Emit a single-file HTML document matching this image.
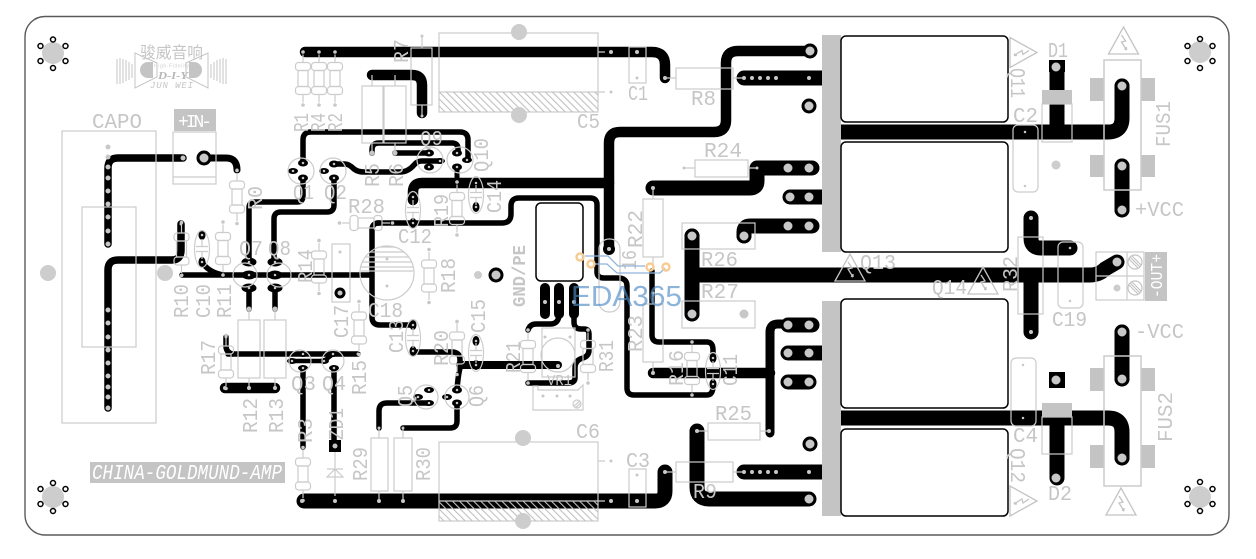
<!DOCTYPE html>
<html><head><meta charset="utf-8"><title>PCB</title>
<style>
html,body{margin:0;padding:0;background:#fff}
svg{display:block}
text{font-family:"Liberation Mono","Noto Sans CJK SC",monospace;font-size:21px;fill:#c6c6c6}
</style></head><body>
<svg width="1256" height="559" viewBox="0 0 1256 559" xmlns="http://www.w3.org/2000/svg">
<defs>
<pattern id="h" width="5" height="5" patternUnits="userSpaceOnUse" patternTransform="rotate(-45)"><rect width="1.1" height="5" fill="#c0c0c0"/></pattern>
<g id="rv" fill="none" stroke="#ccc" stroke-width="1.2"><rect x="-5" y="-8" width="10" height="16"/><rect x="-7.5" y="-16" width="15" height="8" rx="3"/><rect x="-7.5" y="8" width="15" height="8" rx="3"/><path d="M0-16V-24M0 16V24"/></g>
<g id="rd"><use href="#rv"/><circle cy="-26.5" r="1.8" fill="#c8c8c8"/><circle cy="26.5" r="1.8" fill="#c8c8c8"/></g>
<g id="cp" fill="none" stroke="#ccc" stroke-width="1.2"><ellipse rx="7.5" ry="18.5"/><path d="M-6-2.5H6M-6 2.5H6M0-10V-2.5M0 2.5V10"/></g>
<g id="tz" fill="none" stroke="#c4c4c4" stroke-width="1.3"><path d="M-15 13L0-14L15 13Z"/><path d="M-2-6L2 0L-2 1L3 9M3 9l-2-1M3 9V6"/></g>
<g id="sc" fill="none" stroke="#c4c4c4" stroke-width="1.2"><circle r="7"/><path d="M-5-5L5 5M-3-6L6 3M-6-3L3 6"/></g>
</defs>
<rect width="1256" height="559" fill="#fff"/>
<rect x="25" y="16.500" width="1204" height="518.500" rx="20" fill="#fff" stroke="#5a5a5a" stroke-width="1.4"/>

<!-- silk below tracks -->
<g fill="#c4c4c4">
<rect x="1090" y="78" width="14" height="23"/><rect x="1141" y="78" width="14" height="23"/><rect x="1090" y="155" width="14" height="22"/><rect x="1141" y="155" width="14" height="22"/>
<rect x="1090" y="368" width="14" height="23"/><rect x="1141" y="368" width="14" height="23"/><rect x="1090" y="445" width="14" height="23"/><rect x="1141" y="445" width="14" height="23"/>
</g>

<!-- tracks -->
<g fill="none" stroke="#000" stroke-linecap="round" stroke-linejoin="round">
<g stroke-width="10.500">
<path d="M305 52H652Q665 52 665 65V78"/>
<path d="M372 75H412Q422 75 422 85V113"/>
<path d="M810 51H738Q726 51 726 63V120Q726 132 714 132H620Q609 132 609 143V248"/>
<path d="M413 200V192Q413 183 422 183H609"/>
<path d="M225 388H275"/>
<path d="M653 373H770"/>
</g>
<g stroke-width="5.500">
<path d="M303 163V140Q303 132 311 132H460Q468 132 468 140V160"/>
<path d="M372 153V150Q372 143 379 143H452Q458 143 458 149V153"/>
<path d="M395 153H430"/>
<path d="M334 164H345Q349 164 354 169Q358 172 364 172H400Q408 172 414 165Q417 161 422 161H440"/>
<path d="M303 178V196Q303 202 297 202H255Q249 202 249 208V262"/>
<path d="M334 178V205Q334 212 327 212H281Q274 212 274 219V262"/>
<path d="M108 244V168Q108 158 118 158H183" stroke-width="7.500"/>
<path d="M204 158H226Q237 158 237 170" stroke-width="7"/>
<path d="M108 408V270Q108 260 118 260H172Q181 260 181 250V224" stroke-width="7.500"/>
<path d="M182 275H370"/>
<path d="M202 262Q208 272 223 275"/>
<path d="M249 288V309M275 288V309"/>
<path d="M377 223H502Q511 223 511 214V206Q511 198 519 198H590Q597 198 597 205V272Q597 278 604 278H618Q627 278 627 286V388Q627 395 634 395H707Q713 395 713 386"/>
<path d="M413 325H380Q372 325 372 317V230Q372 223 379 223M370 275H372"/>
<path d="M413 352H452Q460 352 460 360V368Q458 376 457 390"/>
<path d="M457 403V421Q457 428 450 428H403"/>
<path d="M379 428V411Q379 403 387 403H429"/>
<path d="M228 354H358"/>
<path d="M226 337V346Q226 352 232 354"/>
<path d="M292 361H324L333 354" stroke-width="4.500"/>
<path d="M303 368V447"/>
<path d="M334 368V446"/>
<path d="M528 330Q530 324 536 324H550Q559 324 559 314"/>
<path d="M574 314V322Q574 329 581 329H584Q589 329 589 334V350Q589 356 583 358Q575 360 575 368V378Q575 383 568 383H528"/>
<path d="M652 271V335Q652 342 659 342H707Q713 342 713 350V358"/>
</g>
<path d="M460 365H558" stroke-width="8"/>
<path d="M457 167V182" stroke-width="5"/>
<g stroke-width="15">
<path d="M304 501H655Q665 501 665 491V472"/>
<path d="M653 188H750Q757 188 757 181V168H812"/>
<path d="M790 197H826"/>
<path d="M744 236V232Q744 226 750 226H812"/>
<path d="M744 78H826"/>
<path d="M744 472H826"/>
<path d="M697 431V487Q697 499 709 499H809"/>
<path d="M788 325H812"/>
<path d="M788 353H826"/>
<path d="M788 382H809"/>
<path d="M692 236V314M692 275H1090Q1099 275 1105 269L1117 262"/>
<path d="M1031 218V238Q1031 248 1041 248H1070"/>
<path d="M1031 275V332"/>
<path d="M860 132H1108Q1122 132 1122 118V86"/>
<path d="M1057 132V67" stroke-linecap="butt"/>
<path d="M1122 166V210"/>
<path d="M1122 332V379"/>
<path d="M860 418H1108Q1122 418 1122 432V458"/>
<path d="M1057 418V478"/>
</g>
<path d="M770 433V332Q770 324 778 324H790" stroke-width="9"/>
<g stroke-width="10" >
<path d="M545 288V314M559 288V314M574 288V314"/>
</g>
<!-- round black pads -->
<path d="M810 51h0M809 106h0M810 444h0M496 275h0M204 158h0" stroke-width="15"/>
<path d="M692 236h0M744 236h0M692 314h0M1122 86h0M1122 166h0M1122 210h0M1122 332h0M1122 379h0M1122 458h0" stroke-width="15"/>
<path d="M340 293h0" stroke-width="11"/>
</g>
<rect x="841" y="124.500" width="25" height="15"/><rect x="841" y="410.500" width="25" height="15"/>
<rect x="1049" y="372" width="16" height="16"/>
<rect x="329" y="440" width="12" height="12"/>
<rect x="1049" y="60" width="16" height="12"/>
<g fill="#c4c4c4"><rect x="822" y="35" width="19" height="217"/><rect x="822" y="301" width="19" height="215"/></g>

<!-- transistor pads -->
<g fill="#000">
<ellipse cx="249" cy="262" rx="7.500" ry="4.500"/><ellipse cx="249" cy="275" rx="7.500" ry="4.500"/><ellipse cx="249" cy="288" rx="7.500" ry="4.500"/>
<ellipse cx="275" cy="262" rx="7.500" ry="4.500"/><ellipse cx="275" cy="275" rx="7.500" ry="4.500"/><ellipse cx="275" cy="288" rx="7.500" ry="4.500"/>
<ellipse cx="303" cy="163" rx="5" ry="3.500"/><ellipse cx="293" cy="171" rx="5" ry="3"/><ellipse cx="303" cy="178" rx="5" ry="3.500"/>
<ellipse cx="334" cy="164" rx="5" ry="3.500"/><ellipse cx="324" cy="171" rx="5" ry="3"/><ellipse cx="334" cy="178" rx="5" ry="3.500"/>
<ellipse cx="429" cy="153" rx="5" ry="3.500"/><ellipse cx="440" cy="161" rx="5" ry="3"/><ellipse cx="429" cy="167" rx="5" ry="3.500"/>
<ellipse cx="457" cy="153" rx="5" ry="3.500"/><ellipse cx="467" cy="160" rx="5" ry="3"/><ellipse cx="457" cy="167" rx="5" ry="3.500"/>
<ellipse cx="303" cy="354" rx="5" ry="3"/><ellipse cx="292" cy="361" rx="5" ry="3"/><ellipse cx="303" cy="368" rx="5" ry="3"/>
<ellipse cx="333" cy="354" rx="5" ry="3"/><ellipse cx="324" cy="361" rx="5" ry="3"/><ellipse cx="334" cy="368" rx="5" ry="3"/>
<ellipse cx="429" cy="390" rx="5" ry="3"/><ellipse cx="418" cy="397" rx="5" ry="3"/><ellipse cx="429" cy="403" rx="5" ry="3"/>
<ellipse cx="457" cy="390" rx="5" ry="3.500"/><ellipse cx="447" cy="397" rx="5" ry="3"/><ellipse cx="457" cy="403" rx="5" ry="3.500"/>
<ellipse cx="202" cy="235" rx="3.500" ry="5"/><ellipse cx="202" cy="262" rx="3.500" ry="5"/>
<ellipse cx="413" cy="197" rx="3.500" ry="5"/><ellipse cx="413" cy="223" rx="3.500" ry="5"/>
<ellipse cx="476" cy="183" rx="3.500" ry="5"/><ellipse cx="476" cy="207" rx="3.500" ry="5"/>
<ellipse cx="413" cy="325" rx="3.500" ry="5"/><ellipse cx="413" cy="351" rx="3.500" ry="5"/>
<ellipse cx="476" cy="341" rx="3.500" ry="5"/><ellipse cx="476" cy="365" rx="3.500" ry="5"/>
<ellipse cx="713" cy="358" rx="3.500" ry="5"/><ellipse cx="713" cy="384" rx="3.500" ry="5"/>
<ellipse cx="609" cy="249" rx="6" ry="6"/>
</g>
<rect x="536" y="203" width="47" height="78" rx="5" fill="#fff" stroke="#000" stroke-width="1.500"/>
<g fill="#fff" stroke="#000" stroke-width="1.500">
<rect x="841" y="36" width="167" height="86" rx="5"/><rect x="841" y="142" width="167" height="110" rx="5"/>
<rect x="841" y="299" width="167" height="109" rx="5"/><rect x="841" y="429" width="167" height="87" rx="5"/>
</g>

<!-- silk outlines -->
<g fill="none" stroke="#ccc" stroke-width="1.200">
<rect x="62" y="131" width="94" height="292"/><rect x="82" y="207" width="54" height="140"/>
<rect x="173" y="132" width="43" height="52"/><path d="M173 177H216"/>
<rect x="362" y="86" width="21" height="57"/><rect x="384" y="86" width="22" height="57"/><path d="M372 75V86M395 75V86M372 143V153M395 143V153"/>
<rect x="411" y="48" width="21" height="57"/><path d="M422 36V48M422 105V116"/>
<rect x="238" y="320" width="22" height="58"/><rect x="264" y="320" width="22" height="58"/><path d="M249 309V320M275 309V320M249 378V388M275 378V388"/>
<rect x="371" y="438" width="17" height="53"/><rect x="394" y="438" width="18" height="53"/><path d="M379 428V438M403 428V438M379 491V501M403 491V501"/>
<rect x="643" y="199" width="20" height="58"/><path d="M653 188V199M653 257V267"/>
<rect x="643" y="304" width="20" height="58"/><path d="M653 293V304M653 362V373"/>
<rect x="676" y="68" width="57" height="21"/><path d="M665 78H676M733 78H744"/>
<rect x="676" y="462" width="57" height="20"/><path d="M665 472H676M733 472H744"/>
<rect x="695" y="160" width="53" height="17"/><path d="M684 168H695M748 168H757"/>
<rect x="708" y="423" width="52" height="17"/><path d="M697 431H708M760 431H769"/>
<rect x="682" y="223" width="73" height="26"/><rect x="682" y="301" width="73" height="27"/>
<rect x="439" y="33" width="159" height="79"/><path d="M439 92H605M598 52H605"/>
<rect x="439" y="442" width="159" height="79"/><path d="M439 501H605M598 461H605"/>
<rect x="629" y="47" width="17" height="36"/><rect x="629" y="469" width="17" height="38"/>
<rect x="332" y="244" width="18" height="58"/>
<circle cx="387" cy="273" r="27"/>
<path d="M380 247H394M370 252H404M365 257H409M362 262H412M361 267H413M361 271H413"/>
<rect x="1013" y="125" width="25" height="67" rx="5"/><rect x="1058" y="242" width="25" height="66" rx="5"/><rect x="1011" y="358" width="25" height="68" rx="5"/>
<rect x="1018" y="237" width="25" height="77"/>
<rect x="1042" y="104" width="30" height="38"/><rect x="1042" y="417" width="30" height="37"/>
<rect x="1104" y="60" width="37" height="130" stroke-width="1.500"/><rect x="1104" y="356" width="37" height="130" stroke-width="1.500"/>
<rect x="1096" y="252" width="48" height="48"/><path d="M1127 252V300M1096 276H1144"/>
<circle cx="245" cy="275" r="12"/><circle cx="279" cy="275" r="12"/>
<circle cx="301" cy="171" r="13"/><circle cx="333" cy="171" r="13"/><circle cx="430" cy="160" r="13"/><circle cx="460" cy="160" r="13"/>
<circle cx="300" cy="361" r="11"/><circle cx="333" cy="361" r="11"/><circle cx="426" cy="397" r="12"/><circle cx="457" cy="397" r="12"/>
<rect x="599" y="239" width="21" height="73" rx="10"/>
<rect x="542" y="328" width="33" height="49"/><circle cx="558" cy="355" r="17"/>
<path d="M533 386H538V390H578L583 385V410H533Z"/><circle cx="577" cy="404" r="4"/><path d="M574 406L580 401M575 408L581 403"/>
<path d="M335 452V496M327 477H343L335 469ZM327 469H343"/>
</g>
<rect x="439" y="92" width="159" height="20" fill="url(#h)"/>
<rect x="439" y="501" width="159" height="20" fill="url(#h)"/>

<!-- small components -->
<use href="#rd" x="303" y="78.500"/><use href="#rd" x="319" y="78.500"/><use href="#rd" x="335" y="78.500"/>
<use href="#rd" x="237" y="197"/><use href="#rd" x="181.500" y="249"/><use href="#rd" x="223" y="248.500"/>
<use href="#rd" x="319" y="267"/><use href="#rd" x="429" y="276"/><use href="#rd" x="457" y="208.500"/>
<use href="#rd" x="359" y="328"/><use href="#rd" x="226" y="362"/><use href="#rd" x="303" y="474"/>
<use href="#rd" x="457" y="348"/><use href="#rd" x="528" y="356.500"/><use href="#rd" x="588" y="356.500"/>
<use href="#rd" x="692" y="368.500"/><use href="#rd" transform="translate(366 223) rotate(90)"/>
<use href="#cp" x="202" y="249"/><use href="#cp" x="413" y="210"/><use href="#cp" x="476" y="195"/>
<use href="#cp" x="413" y="338"/><use href="#cp" x="476" y="353"/><use href="#cp" x="713" y="371"/>

<!-- gray holes -->
<g fill="#cdcdcd">
<circle cx="53" cy="53" r="11"/><circle cx="53" cy="497" r="11"/><circle cx="1200" cy="52" r="11"/><circle cx="1200" cy="497" r="11"/>
<circle cx="48" cy="273" r="8"/><circle cx="165" cy="273" r="8"/><circle cx="519" cy="32" r="8"/><circle cx="519" cy="115" r="8"/>
<circle cx="523" cy="438" r="8"/><circle cx="523" cy="521" r="8"/>
<circle cx="1056" cy="165" r="4.500"/><circle cx="478" cy="275" r="4"/><circle cx="1117" cy="288" r="3.500"/>
</g>
<g fill="#fff" stroke="#000" stroke-width="1.500">
<circle cx="53" cy="39.500" r="2.500"/><circle cx="65.500" cy="46" r="2.500"/><circle cx="65.500" cy="61" r="2.500"/><circle cx="53" cy="68" r="2.500"/><circle cx="40.500" cy="61" r="2.500"/><circle cx="40.500" cy="46" r="2.500"/>
<circle cx="53" cy="483" r="2.500"/><circle cx="65.500" cy="489" r="2.500"/><circle cx="65.500" cy="504" r="2.500"/><circle cx="53" cy="511" r="2.500"/><circle cx="40.500" cy="504" r="2.500"/><circle cx="40.500" cy="489" r="2.500"/>
<circle cx="1200" cy="39" r="2.500"/><circle cx="1212.500" cy="46" r="2.500"/><circle cx="1212.500" cy="61" r="2.500"/><circle cx="1200" cy="68" r="2.500"/><circle cx="1187.500" cy="61" r="2.500"/><circle cx="1187.500" cy="46" r="2.500"/>
<circle cx="1200" cy="482" r="2.500"/><circle cx="1212.500" cy="489" r="2.500"/><circle cx="1212.500" cy="504" r="2.500"/><circle cx="1200" cy="511" r="2.500"/><circle cx="1187.500" cy="504" r="2.500"/><circle cx="1187.500" cy="489" r="2.500"/>
</g>
<g fill="#c4c4c4">
<rect x="1042" y="90" width="30" height="14"/><rect x="1042" y="403" width="30" height="14"/>
<rect x="174" y="109" width="42" height="22"/><rect x="90" y="462" width="195" height="21"/><rect x="1145" y="252" width="22" height="49"/>
</g>

<!-- gray dots on pads -->
<g fill="none" stroke="#c8c8c8" stroke-linecap="round">
<path stroke-width="5" d="M108 147h0M108 157h0M108 167h0M108 178h0M108 191h0M108 204h0M108 217h0M108 231h0M108 244h0M108 310h0M108 323h0M108 337h0M108 350h0M108 363h0M108 376h0M108 387h0M108 397h0M108 408h0M183 158h0M372 153h0M395 153h0M249 309h0M275 309h0"/>
<path stroke-width="4" d="M225 388h0M249 388h0M275 388h0M302 501h0M335 501h0M379 501h0M403 501h0M611 501h0M637 501h0M665 472h0M611 52h0M637 52h0M665 78h0M653 188h0M609 249h0M545 302h0M559 302h0M574 302h0M558 366h0M744 78h0M752 78h0M760 78h0M768 78h0M776 78h0M809 78h0M744 472h0M752 472h0M760 472h0M768 472h0M776 472h0M809 472h0M697 431h0M769 431h0M653 373h0M1031 218h0M1031 332h0"/>
<path stroke-width="3" d="M181 224h0M237 170h0M379 428h0M403 428h0M528 330h0M528 383h0M588 330h0M226 337h0M358 354h0M182 275h0M611 92h0M611 461h0M637 78h0M637 475h0M340 252h0M387 259h0M387 286h0M422 36h0M422 116h0M653 293h0M457 322h0M692 342h0M692 395h0M684 168h0M757 168h0M543 396h0M557 396h0M570 396h0M545 337h0M570 337h0"/>
<path stroke-width="2.500" d="M303 163h0M293 171h0M303 178h0M334 164h0M324 171h0M334 178h0M429 153h0M440 161h0M429 167h0M457 153h0M467 160h0M457 167h0M303 354h0M292 361h0M303 368h0M333 354h0M324 361h0M334 368h0M429 390h0M418 397h0M429 403h0M457 390h0M447 397h0M457 403h0M249 262h0M249 275h0M249 288h0M275 262h0M275 275h0M275 288h0M202 235h0M202 262h0M413 197h0M413 223h0M476 183h0M476 207h0M413 325h0M413 351h0M476 341h0M476 365h0M713 358h0M713 384h0M1070 248h0M1025 132h0M1025 186h0M1023 365h0M1023 418h0M1070 301h0"/>
<path stroke-width="9" d="M810 51h0M809 106h0M810 444h0M496 275h0M204 158h0M1122 86h0M1122 166h0M1122 210h0M1122 332h0M1122 379h0M1122 458h0M1056 67h0M1056 478h0M1056 380h0M692 236h0M744 236h0M692 314h0M744 314h0M788 168h0M809 168h0M790 197h0M809 197h0M788 226h0M809 226h0M788 325h0M809 325h0M788 353h0M809 353h0M788 382h0M809 382h0M809 499h0M1117 262h0" stroke-opacity="1"/>
<path stroke-width="5" d="M340 293h0M335 446h0"/>
</g>
<use href="#sc" x="1135" y="262"/><use href="#sc" x="1135" y="288"/>
<use href="#tz" x="1123.500" y="41"/><use href="#tz" x="1121" y="502"/><use href="#tz" x="850" y="268"/><use href="#tz" x="983" y="281"/>
<use href="#tz" transform="translate(1023 52.500) rotate(90)"/><use href="#tz" transform="translate(1023 501) rotate(90)"/>

<!-- logo -->
<g fill="none" stroke="#c4c4c4" stroke-width="1">
<path d="M135 53V88L157 77V63ZM208 53V88L186 77V63Z"/>
<path d="M117 59V84M120 58V84M123 59V83M126 60V81M129 62V80M132 64V78M211 64V78M214 62V80M217 60V81M220 59V83M223 58V84M226 59V84"/>
</g>
<path d="M153 62H148A8 8 0 0 0 148 78H153ZM189 62H194A8 8 0 0 1 194 78H189Z" fill="#c4c4c4"/>
<text x="140" y="58" style="font-family:'Liberation Sans','Noto Sans CJK SC',sans-serif;font-size:16px" textLength="63" lengthAdjust="spacingAndGlyphs">骏威音响</text>
<text x="154" y="67.500" style="font-family:'Liberation Sans',sans-serif;font-size:5px;fill:#d0d0d0" textLength="35">High-Fidelity</text>
<text x="158" y="79" style="font-family:'Liberation Serif',serif;font-size:11px;font-weight:bold;font-style:italic;fill:#b8b8b8" textLength="30" lengthAdjust="spacingAndGlyphs">D-I-Y</text>
<text x="150" y="88" style="font-size:9px;font-style:italic" textLength="43">JUN  WEI</text>

<!-- horizontal labels -->
<text x="92" y="128" textLength="50" lengthAdjust="spacingAndGlyphs">CAPO</text>
<text x="348" y="213" textLength="37" lengthAdjust="spacingAndGlyphs">R28</text>
<text x="368" y="317" textLength="35" lengthAdjust="spacingAndGlyphs">C18</text>
<text x="398" y="243" textLength="34" lengthAdjust="spacingAndGlyphs">C12</text>
<text x="577" y="128" textLength="23" lengthAdjust="spacingAndGlyphs">C5</text>
<text x="628" y="100" textLength="20" lengthAdjust="spacingAndGlyphs">C1</text>
<text x="691" y="105" textLength="25" lengthAdjust="spacingAndGlyphs">R8</text>
<text x="704" y="157" textLength="38" lengthAdjust="spacingAndGlyphs">R24</text>
<text x="701" y="266" textLength="37" lengthAdjust="spacingAndGlyphs">R26</text>
<text x="701" y="298" textLength="38" lengthAdjust="spacingAndGlyphs">R27</text>
<text x="715" y="420" textLength="37" lengthAdjust="spacingAndGlyphs">R25</text>
<text x="693" y="498" textLength="24" lengthAdjust="spacingAndGlyphs">R9</text>
<text x="626" y="467" textLength="24" lengthAdjust="spacingAndGlyphs">C3</text>
<text x="576" y="438" textLength="24" lengthAdjust="spacingAndGlyphs">C6</text>
<text x="1048" y="57" textLength="20" lengthAdjust="spacingAndGlyphs">D1</text>
<text x="1013" y="122" textLength="25" lengthAdjust="spacingAndGlyphs">C2</text>
<text x="1135" y="216" textLength="49" lengthAdjust="spacingAndGlyphs">+VCC</text>
<text x="1135" y="338" textLength="49" lengthAdjust="spacingAndGlyphs">-VCC</text>
<text x="1052" y="326" textLength="35" lengthAdjust="spacingAndGlyphs">C19</text>
<text x="1013" y="442" textLength="25" lengthAdjust="spacingAndGlyphs">C4</text>
<text x="1048" y="500" textLength="24" lengthAdjust="spacingAndGlyphs">D2</text>
<text x="860" y="269" textLength="36" lengthAdjust="spacingAndGlyphs">Q13</text>
<text x="932" y="294" textLength="35" lengthAdjust="spacingAndGlyphs">Q14</text>
<text x="547" y="385" style="font-size:15px" textLength="25" lengthAdjust="spacingAndGlyphs">VR1</text>
<text x="291" y="390" textLength="25" lengthAdjust="spacingAndGlyphs">Q3</text>
<text x="322" y="390" textLength="24" lengthAdjust="spacingAndGlyphs">Q4</text>
<text x="239" y="255" textLength="24" lengthAdjust="spacingAndGlyphs">Q7</text>
<text x="268" y="255" textLength="23" lengthAdjust="spacingAndGlyphs">Q8</text>
<text x="293" y="199" textLength="21" lengthAdjust="spacingAndGlyphs">Q1</text>
<text x="324" y="199" textLength="23" lengthAdjust="spacingAndGlyphs">Q2</text>
<text x="420" y="145" textLength="23" lengthAdjust="spacingAndGlyphs">Q9</text>
<text x="178" y="127" style="fill:#fff;font-size:18px" textLength="34" lengthAdjust="spacing">+IN-</text>
<text x="92" y="479" style="fill:#fff;font-style:italic;font-size:21px" textLength="190" lengthAdjust="spacingAndGlyphs">CHINA-GOLDMUND-AMP</text>

<!-- rotated labels -->
<text transform="translate(308 132) rotate(-90)" textLength="19" lengthAdjust="spacingAndGlyphs">R1</text>
<text transform="translate(325 132) rotate(-90)" textLength="19" lengthAdjust="spacingAndGlyphs">R4</text>
<text transform="translate(342 132) rotate(-90)" textLength="19" lengthAdjust="spacingAndGlyphs">R2</text>
<text transform="translate(488 172) rotate(-90)" textLength="34" lengthAdjust="spacingAndGlyphs">Q10</text>
<text transform="translate(379 187) rotate(-90)" textLength="24" lengthAdjust="spacingAndGlyphs">R5</text>
<text transform="translate(403 187) rotate(-90)" textLength="24" lengthAdjust="spacingAndGlyphs">R6</text>
<text transform="translate(408 63) rotate(-90)" textLength="24" lengthAdjust="spacingAndGlyphs">R7</text>
<text transform="translate(262 210) rotate(-90)" textLength="24" lengthAdjust="spacingAndGlyphs">R0</text>
<text transform="translate(188 318) rotate(-90)" textLength="34" lengthAdjust="spacingAndGlyphs">R10</text>
<text transform="translate(210 318) rotate(-90)" textLength="34" lengthAdjust="spacingAndGlyphs">C10</text>
<text transform="translate(231 318) rotate(-90)" textLength="34" lengthAdjust="spacingAndGlyphs">R11</text>
<text transform="translate(312 283) rotate(-90)" textLength="34" lengthAdjust="spacingAndGlyphs">R14</text>
<text transform="translate(215 375) rotate(-90)" textLength="35" lengthAdjust="spacingAndGlyphs">R17</text>
<text transform="translate(257 433) rotate(-90)" textLength="35" lengthAdjust="spacingAndGlyphs">R12</text>
<text transform="translate(283 433) rotate(-90)" textLength="35" lengthAdjust="spacingAndGlyphs">R13</text>
<text transform="translate(312 443) rotate(-90)" textLength="25" lengthAdjust="spacingAndGlyphs">R3</text>
<text transform="translate(343 440) rotate(-90)" textLength="32" lengthAdjust="spacingAndGlyphs">ZD1</text>
<text transform="translate(366 395) rotate(-90)" textLength="35" lengthAdjust="spacingAndGlyphs">R15</text>
<text transform="translate(348 338) rotate(-90)" textLength="33" lengthAdjust="spacingAndGlyphs">C17</text>
<text transform="translate(403 353) rotate(-90)" textLength="33" lengthAdjust="spacingAndGlyphs">C13</text>
<text transform="translate(367 481) rotate(-90)" textLength="34" lengthAdjust="spacingAndGlyphs">R29</text>
<text transform="translate(430 481) rotate(-90)" textLength="34" lengthAdjust="spacingAndGlyphs">R30</text>
<text transform="translate(455 293) rotate(-90)" textLength="35" lengthAdjust="spacingAndGlyphs">R18</text>
<text transform="translate(448 227) rotate(-90)" textLength="33" lengthAdjust="spacingAndGlyphs">R19</text>
<text transform="translate(501 213) rotate(-90)" textLength="33" lengthAdjust="spacingAndGlyphs">C14</text>
<text transform="translate(448 366) rotate(-90)" textLength="36" lengthAdjust="spacingAndGlyphs">R20</text>
<text transform="translate(485 333) rotate(-90)" textLength="34" lengthAdjust="spacingAndGlyphs">C15</text>
<text transform="translate(412 407) rotate(-90)" textLength="22" lengthAdjust="spacingAndGlyphs">Q5</text>
<text transform="translate(483 407) rotate(-90)" textLength="22" lengthAdjust="spacingAndGlyphs">Q6</text>
<text transform="translate(520 373) rotate(-90)" textLength="32" lengthAdjust="spacingAndGlyphs">R21</text>
<text transform="translate(613 372) rotate(-90)" textLength="32" lengthAdjust="spacingAndGlyphs">R31</text>
<text transform="translate(642 248) rotate(-90)" textLength="38" lengthAdjust="spacingAndGlyphs">R22</text>
<text transform="translate(642 352) rotate(-90)" textLength="37" lengthAdjust="spacingAndGlyphs">R23</text>
<text transform="translate(636 270) rotate(-90)" textLength="20" lengthAdjust="spacingAndGlyphs">16</text>
<text transform="translate(683 386) rotate(-90)" textLength="36" lengthAdjust="spacingAndGlyphs">R16</text>
<text transform="translate(737 386) rotate(-90)" textLength="32" lengthAdjust="spacingAndGlyphs">C11</text>
<text transform="translate(1017 292) rotate(-90)" textLength="36" lengthAdjust="spacingAndGlyphs">R32</text>
<text transform="translate(1170 147) rotate(-90)" textLength="46" lengthAdjust="spacingAndGlyphs">FUS1</text>
<text transform="translate(1172 442) rotate(-90)" textLength="50" lengthAdjust="spacingAndGlyphs">FUS2</text>
<text transform="translate(1011 68) rotate(90)" textLength="30" lengthAdjust="spacingAndGlyphs">Q11</text>
<text transform="translate(1011 448) rotate(90)" textLength="35" lengthAdjust="spacingAndGlyphs">Q12</text>
<text transform="translate(525 307) rotate(-90)" style="font-weight:bold;font-size:18px" textLength="62" lengthAdjust="spacingAndGlyphs">GND/PE</text>
<text transform="translate(1162 298) rotate(-90)" style="fill:#fff;font-size:17px" textLength="44" lengthAdjust="spacingAndGlyphs">-OUT+</text>

<!-- watermark -->
<path d="M585 256H608L618 266H645M595 264H607L617 273H660L665 268" fill="none" stroke="#8fb5da" stroke-width="1.300"/>
<g fill="#fff" fill-opacity="0" stroke="#f6cc92" stroke-width="2.400"><circle cx="580" cy="257" r="3.500"/><circle cx="591" cy="264" r="3.500"/><circle cx="650" cy="267" r="3.500"/><circle cx="666" cy="267" r="3.500"/></g>
<text x="571" y="306" style="font-family:'Liberation Sans',sans-serif;font-size:29px;fill:#4f8ac6;fill-opacity:.65" textLength="111" lengthAdjust="spacingAndGlyphs">EDA365</text>
</svg>
</body></html>
